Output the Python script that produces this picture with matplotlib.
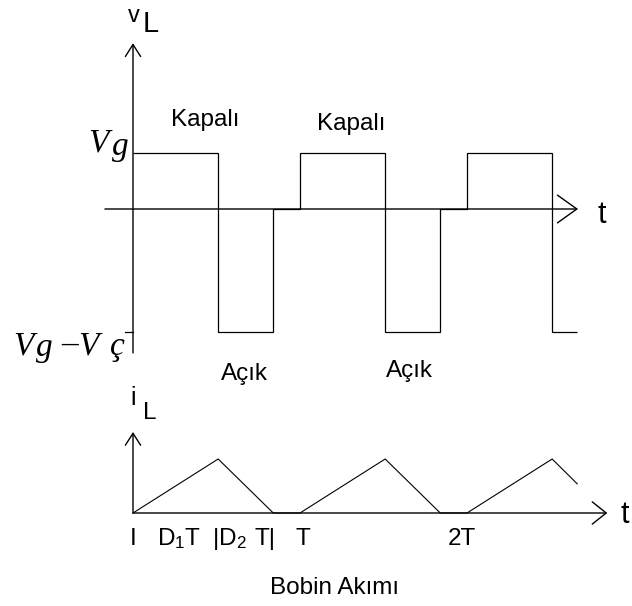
import matplotlib.pyplot as plt

plt.rcParams['font.family'] = 'Liberation Sans'
plt.rcParams['mathtext.fontset'] = 'custom'
plt.rcParams['mathtext.rm'] = 'Liberation Sans'
plt.rcParams['mathtext.it'] = 'Liberation Sans'

# switching waveforms, time in periods (T = 1)
t_edges = [0, 0.51, 0.84, 1.0, 1.51, 1.84, 2.0, 2.51, 2.66]
v_L = [1, -2.2, 0, 1, -2.2, 0, 1, -2.2]          # Vg = 1, low level = Vg - Vc
t_i = [0, 0.51, 0.84, 1.0, 1.51, 1.84, 2.0, 2.51, 2.66]
i_L = [0, 1, 0, 0, 1, 0, 0, 1, 0.54]

W, H = 632, 606
X0, PER = 133, 167   # pixel of t=0 and pixels per period

fig = plt.figure(figsize=(W / 100, H / 100), dpi=100)


def panel(y0, unit):
    ax = fig.add_axes([0, 0, 1, 1])
    ax.set_xlim(-X0 / PER, (W - X0) / PER)
    ax.set_ylim((y0 - H) / unit, y0 / unit)
    ax.axis('off')
    ax.patch.set_alpha(0)
    return ax


def arrow(ax, start, end, hl, hw):
    ax.annotate('', xy=end, xytext=start,
                arrowprops=dict(arrowstyle='->,head_length=%g,head_width=%g' % (hl, hw),
                                lw=1.0, color='black', shrinkA=0, shrinkB=0))


sans = dict(fontsize=17.5, color='black')
serif = dict(fontsize=24, family='Liberation Serif', style='italic', color='black')

# ---- voltage across the inductor ----
av = panel(209, 56)
av.stairs(v_L, t_edges, baseline=None, color='black', lw=0.9)
arrow(av, (0, -2.57), (0, 2.96), 0.86, 0.55)
arrow(av, (-0.168, 0), (2.665, 0), 1.4, 1.0)
av.plot([-0.048, 0], [v_L[1], v_L[1]], color='black', lw=0.9)

av.text(0.228, 1.48, 'Kapalı', **sans)
av.text(1.10, 1.41, 'Kapalı', **sans)
av.text(0.527, -3.05, 'Açık', **sans)
av.text(1.515, -3.0, 'Açık', **sans)
av.text(2.78, -0.25, 't', fontsize=22)
av.text(-0.03, 3.34, 'v', fontsize=17)
av.text(0.06, 3.16, 'L', fontsize=21)

av.text(-0.27, 1.02, 'V', **serif)
av.text(-0.125, 0.96, 'g', **serif)
av.text(-0.72, -2.59, 'V', **serif)
av.text(-0.58, -2.62, 'g', **serif)
av.text(-0.43, -2.57, '–', **serif)
av.text(-0.33, -2.59, 'V', **serif)
av.text(-0.14, -2.61, 'ç', **serif)

# ---- inductor current ----
ai = panel(513, 54)
ai.plot(t_i, i_L, color='black', lw=0.8)
arrow(ai, (0, 0), (0, 1.5), 0.86, 0.55)
arrow(ai, (0, 0), (2.84, 0), 1.0, 0.8)

ai.text(0, 2.0, 'i', ha='center', fontsize=18)
ai.text(0.06, 1.74, 'L', **sans)
ai.text(2.92, -0.185, 't', fontsize=22)

ai.text(0, -0.59, 'I', ha='center', **sans)
ai.text(0.144, -0.59, r'D$_1$T', **sans)
ai.text(0.473, -0.59, r'|D$_2$', **sans)
ai.text(0.73, -0.59, 'T|', **sans)
ai.text(1.02, -0.59, 'T', ha='center', **sans)
ai.text(1.97, -0.59, '2T', ha='center', **sans)
ai.text(0.823, -1.5, 'Bobin Akımı', **sans)

fig.savefig('out.png', dpi=100)
